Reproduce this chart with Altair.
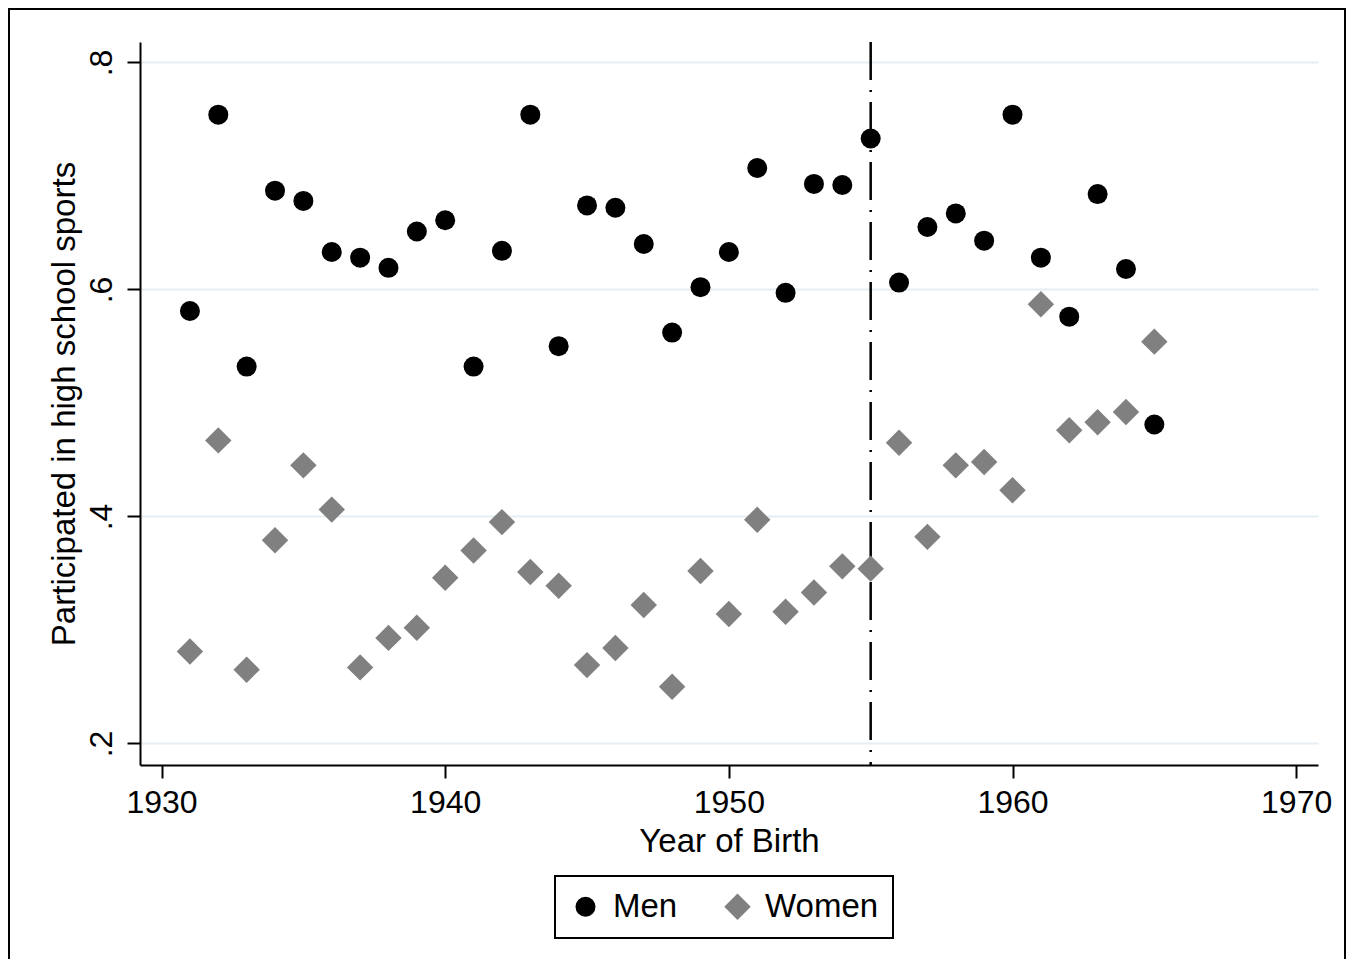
import altair as alt
import pandas as pd

years = list(range(1931, 1966))
men = [0.581, 0.754, 0.532, 0.687, 0.678, 0.633, 0.628, 0.619, 0.651, 0.661,
       0.532, 0.634, 0.754, 0.550, 0.674, 0.672, 0.640, 0.562, 0.602, 0.633,
       0.707, 0.597, 0.693, 0.692, 0.733, 0.606, 0.655, 0.667, 0.643, 0.754,
       0.628, 0.576, 0.684, 0.618, 0.481]
women = [0.281, 0.467, 0.265, 0.379, 0.445, 0.406, 0.267, 0.293, 0.302, 0.346,
         0.370, 0.395, 0.351, 0.339, 0.269, 0.284, 0.322, 0.250, 0.352, 0.314,
         0.397, 0.316, 0.333, 0.356, 0.354, 0.465, 0.382, 0.445, 0.448, 0.423,
         0.587, 0.476, 0.483, 0.492, 0.554]
groups = ["Men", "Women"]
cutoff_year = [1955]
x_ticks = [1930, 1940, 1950, 1960, 1970]
y_ticks = [0.2, 0.4, 0.6, 0.8]

df = pd.DataFrame({
    "year": years * 2,
    "value": men + women,
    "group": ["Men"] * len(years) + ["Women"] * len(years),
})
cut = pd.DataFrame({"year": cutoff_year})
frame_df = pd.DataFrame({"a": [0]})

FONT = "Liberation Sans"
W, H = 1178, 723

xscale = alt.Scale(domain=[1929.24, 1970.77], nice=False, zero=False)
yscale = alt.Scale(domain=[0.181, 0.818], nice=False, zero=False)

xaxis = alt.Axis(values=x_ticks, format="d", title="Year of Birth", grid=False,
                 labelFontSize=32, titleFontSize=33, labelPadding=9, titlePadding=7,
                 tickSize=13, tickWidth=2, tickColor="black", domainColor="black",
                 domainWidth=2, labelColor="black", titleColor="black",
                 labelFont=FONT, titleFont=FONT, titleFontWeight="normal")
yaxis = alt.Axis(values=y_ticks, title="Participated in high school sports",
                 labelExpr="substring(format(datum.value, '.1f'), 1)",
                 labelAngle=270, labelAlign="center", labelBaseline="bottom",
                 grid=True, gridColor="#e6eef1", gridWidth=2,
                 labelFontSize=32, titleFontSize=33, labelPadding=9, titlePadding=4,
                 tickSize=13, tickWidth=2, tickColor="black", domainColor="black",
                 domainWidth=2, labelColor="black", titleColor="black",
                 labelFont=FONT, titleFont=FONT, titleFontWeight="normal")

rule = alt.Chart(cut).mark_rule(color="black", strokeWidth=2.5,
                                strokeDash=[38, 10, 2, 10]).encode(
    x=alt.X("year:Q", scale=xscale, axis=xaxis)
)

points = alt.Chart(df).mark_point(filled=True, opacity=1, strokeWidth=0).encode(
    x=alt.X("year:Q", scale=xscale, axis=xaxis),
    y=alt.Y("value:Q", scale=yscale, axis=yaxis),
    color=alt.Color("group:N", scale=alt.Scale(domain=groups, range=["#000000", "#808080"]),
                    legend=alt.Legend(title=None, orient="none", legendX=415, legendY=834,
                                      direction="horizontal", columns=2)),
    shape=alt.Shape("group:N", scale=alt.Scale(domain=groups, range=["circle", "diamond"])),
    size=alt.Size("group:N", scale=alt.Scale(domain=groups, range=[400, 700])),
)

frame = alt.Chart(frame_df).mark_rect(filled=False, stroke="black", strokeWidth=2).encode(
    x=alt.value(-131), x2=alt.value(1205), y=alt.value(-33), y2=alt.value(930)
)

chart = alt.layer(frame, rule, points).properties(
    width=W, height=H,
    autosize=alt.AutoSizeParams(type="none"),
    padding={"left": 132, "top": 34, "right": 28, "bottom": 194},
).configure_view(stroke=None).configure_legend(
    labelFontSize=33, labelFont=FONT, labelColor="black",
    strokeColor="black", fillColor="white", padding=14,
    labelOffset=11, columnPadding=43, symbolStrokeWidth=0,
    strokeWidth=2,
)

chart.save("out.html", embed_options={"renderer": "svg", "actions": False})
